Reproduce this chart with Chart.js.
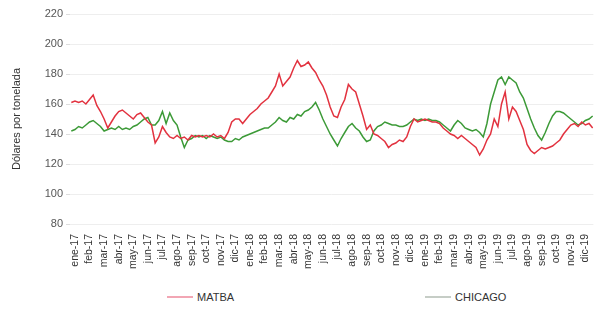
<!DOCTYPE html>
<html>
<head>
<meta charset="utf-8">
<script src="https://cdn.jsdelivr.net/npm/chart.js@4/dist/chart.umd.min.js"></script>
<style>
  html,body{margin:0;padding:0;background:#fff;}
  #wrap{position:relative;width:600px;height:309px;font-family:"Liberation Sans",Arial,sans-serif;}
  #chart{position:absolute;left:0;top:0;}
  .lg{position:absolute;top:291px;font-size:11px;color:#333;line-height:12px;}
  .lg i{display:inline-block;width:26px;height:2px;vertical-align:middle;margin-right:4px;margin-top:-2px;}
</style>
</head>
<body>
<div id="wrap">
  <canvas id="chart" width="600" height="286"></canvas>
  <div class="lg" style="left:167px"><i style="background:#f2a6b4"></i>MATBA</div>
  <div class="lg" style="left:425px"><i style="background:#c6cdc6"></i>CHICAGO</div>
</div>
<script>
// month labels, one per month from ene-17
const monthLabels=['ene-17','feb-17','mar-17','abr-17','may-17','jun-17','jul-17','ago-17','sep-17','oct-17','nov-17','dic-17',
  'ene-18','feb-18','mar-18','abr-18','may-18','jun-18','jul-18','ago-18','sep-18','oct-18','nov-18','dic-18',
  'ene-19','feb-19','mar-19','abr-19','may-19','jun-19','jul-19','ago-19','sep-19','oct-19','nov-19','dic-19'];

// weekly readings (4 per month), first one a week before ene-17
const firstWeek=-0.25, weekStep=0.25;
const matba=[161,162,161,162,160,163,166,159,155,150,144,148,152,155,156,154,152,150,153,154,
  151,148,146,134,138,145,141,138,137,139,137,138,136,139,138,139,138,139,138,140,
  138,139,137,141,148,150,150,147,150,153,155,157,160,162,164,168,172,180,172,175,
  178,184,189,185,186,188,184,181,176,172,166,158,152,151,158,163,173,170,168,160,
  152,143,146,140,139,137,135,131,133,134,136,135,138,145,150,148,149,150,149,148,
  148,147,144,142,140,139,137,139,137,135,133,131,126,130,136,140,150,145,160,168,
  150,158,155,149,143,133,129,127,129,131,130,131,132,134,136,140,143,146,147,145,
  148,146,147,144];
const chicago=[142,143,145,144,146,148,149,147,145,142,143,144,143,145,143,144,143,145,146,148,
  150,151,146,146,149,155,147,154,149,146,138,131,136,137,139,138,139,137,139,138,
  137,138,136,135,135,137,136,138,139,140,141,142,143,144,144,146,148,151,149,148,
  151,150,153,152,155,156,158,161,156,150,145,140,136,132,137,141,145,147,144,142,
  138,135,136,142,145,146,148,147,146,146,145,145,146,148,150,149,150,149,150,149,
  149,148,146,144,142,146,149,147,144,143,142,143,141,138,147,160,168,176,178,173,
  178,176,174,168,164,157,150,144,139,136,141,147,152,155,155,154,152,150,148,146,
  147,149,150,152];

const yTicks=[80,100,120,140,160,180,200,220];

const toPts=arr=>arr.map((v,i)=>({x:firstWeek+i*weekStep,y:v}));

new Chart(document.getElementById('chart'),{
  type:'line',
  data:{datasets:[
    {label:'MATBA',data:toPts(matba),borderColor:'#e2323f',borderWidth:1.5,pointRadius:0,tension:0},
    {label:'CHICAGO',data:toPts(chicago),borderColor:'#3c9a37',borderWidth:1.5,pointRadius:0,tension:0}
  ]},
  options:{
    responsive:false,animation:false,
    layout:{padding:{top:14,right:2,left:0,bottom:0}},
    plugins:{legend:{display:false},tooltip:{enabled:false}},
    scales:{
      x:{type:'linear',min:-0.34,max:35.55,
        grid:{display:false},border:{display:false},
        afterFit:s=>{s.height=62;},
        ticks:{stepSize:1,includeBounds:false,autoSkip:false,maxRotation:90,minRotation:90,padding:2,
          color:'#333',font:{family:'Liberation Sans',size:10.5},
          callback:v=>Number.isInteger(v)?monthLabels[v]:''}},
      y:{min:80,max:220,
        afterFit:s=>{s.width=70;},
        afterBuildTicks:s=>{s.ticks=yTicks.map(v=>({value:v}));},
        grid:{color:'#eeeeee',tickLength:4,tickColor:'#dddddd'},border:{display:false},
        ticks:{color:'#555',font:{family:'Liberation Sans',size:11},padding:3},
        title:{display:true,text:'Dólares por tonelada',color:'#333',font:{family:'Liberation Sans',size:11},padding:{top:10,bottom:6}}}
    }
  }
});
</script>
</body>
</html>
